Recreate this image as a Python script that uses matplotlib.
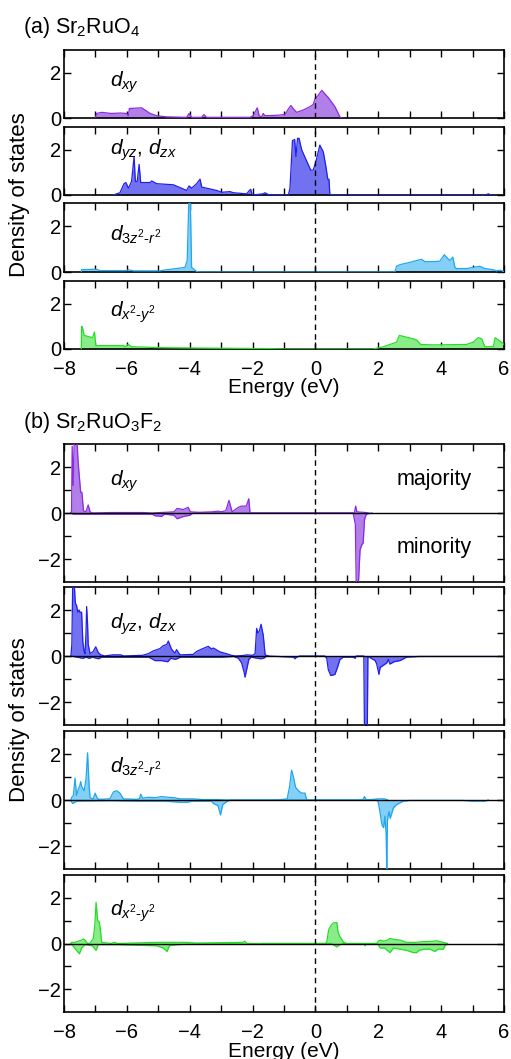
import numpy as np
import matplotlib
matplotlib.use("Agg")
import matplotlib.pyplot as plt

plt.rcParams['font.family'] = ['Liberation Sans', 'DejaVu Sans']
plt.rcParams['mathtext.fontset'] = 'custom'
plt.rcParams['mathtext.rm'] = 'Liberation Sans'
plt.rcParams['mathtext.it'] = 'Liberation Sans:italic'
plt.rcParams['font.size'] = 15

# ---------------- (a) Sr2RuO4 (non spin-polarized) ----------------
e_a_xy = [-7.0, -6.96, -6.8, -6.5, -6.2, -6.01, -5.95, -5.92, -5.53, -5.26, -5.05, -4.73, -4.10, -4.02, -3.94,
          -3.62, -3.55, -3.46, -2.08, -1.98, -1.85, -1.79, -1.71, -1.66, -1.61, -1.23, -0.97, -0.86, -0.78,
          -0.70, -0.60, -0.39, -0.17, -0.07, -0.01, 0.09, 0.20, 0.41, 0.62, 0.78, 0.83]
a_xy = [0.0, 0.2, 0.25, 0.2, 0.22, 0.2, 0.1, 0.42, 0.45, 0.2, 0.1, 0.05, 0.03, 0.2, 0.03,
        0.03, 0.15, 0.03, 0.03, 0.1, 0.45, 0.1, 0.05, 0.2, 0.1, 0.12, 0.15, 0.4, 0.55,
        0.4, 0.25, 0.35, 0.5, 0.6, 0.85, 1.0, 1.22, 0.9, 0.5, 0.05, 0.0]

e_a_yz = [-6.43, -6.22, -6.09, -6.03, -5.95, -5.85, -5.77, -5.73, -5.67, -5.61, -5.56, -5.26, -5.21, -5.05,
          -4.52, -4.26, -4.10, -4.02, -3.94, -3.78, -3.67, -3.62, -3.14, -2.98, -2.72, -2.61, -2.19, -2.10,
          -2.06, -2.01, -1.66, -1.61, -1.50, -0.86, -0.81, -0.73, -0.66, -0.62, -0.57, -0.52, -0.44, -0.28,
          -0.15, -0.07, 0.02, 0.14, 0.25, 0.34, 0.39, 0.43, 0.46, 5.4, 5.5, 5.6]
a_yz = [0.0, 0.1, 0.5, 0.55, 0.3, 0.6, 1.7, 0.6, 0.6, 1.35, 0.55, 0.55, 0.62, 0.5,
        0.45, 0.3, 0.2, 0.4, 0.3, 0.5, 0.7, 0.35, 0.2, 0.12, 0.15, 0.1, 0.05, 0.2,
        0.25, 0.0, 0.05, 0.1, 0.02, 0.0, 0.3, 2.4, 2.45, 1.7, 2.5, 2.5, 2.0, 1.5,
        1.1, 1.1, 1.5, 2.2, 1.9, 1.2, 0.7, 0.7, 0.0, 0.0, 0.05, 0.0]

e_a_z2 = [-7.45, -7.44, -7.01, -6.96, -6.85, -6.01, -5.95, -5.79, -4.95, -4.73, -4.42, -4.15, -4.08, -4.03,
          -3.98, -3.94, -3.78, -3.67, 2.53, 2.58, 2.69, 3.01, 3.22, 3.38, 3.48, 3.75, 3.96, 4.10, 4.20,
          4.28, 4.37, 4.44, 4.49, 4.81, 5.02, 5.23, 5.39, 5.66, 5.76, 5.87, 6.0]
a_z2 = [0.0, 0.1, 0.12, 0.12, 0.06, 0.06, 0.1, 0.05, 0.05, 0.1, 0.15, 0.2, 0.5, 3.0,
        3.0, 0.2, 0.02, 0.0, 0.0, 0.25, 0.32, 0.42, 0.5, 0.55, 0.45, 0.45, 0.47, 0.75, 0.6,
        0.5, 0.65, 0.2, 0.15, 0.15, 0.2, 0.25, 0.15, 0.1, 0.05, 0.08, 0.02]

e_a_x2 = [-7.45, -7.44, -7.41, -7.36, -7.09, -7.03, -6.99, -6.11, -6.06, -5.95, -5.85, -4.95, -3.67, -1.55,
          -1.02, 1.84, 2.16, 2.58, 2.67, 3.11, 3.22, 3.35, 3.75, 4.81, 5.02, 5.18, 5.29, 5.39, 5.66,
          5.72, 5.87, 6.0]
a_x2 = [0.0, 1.0, 0.95, 0.6, 0.5, 0.75, 0.15, 0.15, 0.1, 0.2, 0.1, 0.06, 0.04, 0.02,
        0.0, 0.0, 0.1, 0.3, 0.6, 0.45, 0.4, 0.2, 0.18, 0.2, 0.3, 0.5, 0.45, 0.1, 0.1,
        0.5, 0.35, 0.2]

# ---------------- (b) Sr2RuO3F2 (majority up / minority down) ----------------
e_b_xy_up = [-7.78, -7.76, -7.74, -7.71, -7.67, -7.6, -7.55, -7.5, -7.47, -7.43, -7.38, -7.3, -7.23, -7.17,
             -7.1, -6.5, -6.0, -5.5, -5.2, -4.5, -4.4, -4.2, -4.05, -3.98, -3.7, -3.3, -3.1, -3.0, -2.85,
             -2.75, -2.65, -2.45, -2.35, -2.2, -2.12, -2.08, 1.24, 1.28, 1.32, 1.6, 1.7]
b_xy_up = [0.0, 0.1, 2.9, 1.2, 3.5, 3.5, 2.2, 1.4, 0.9, 0.9, 0.1, 0.05, 0.35, 0.05,
           0.0, 0.02, 0.02, 0.02, 0.0, 0.05, 0.2, 0.15, 0.25, 0.05, 0.03, 0.05, 0.08, 0.05, 0.1,
           0.55, 0.05, 0.25, 0.3, 0.3, 0.62, 0.0, 0.0, 0.3, 0.05, 0.02, 0.0]
e_b_xy_dn = [-7.8, -7.7, -5.2, -5.1, -4.9, -4.8, -4.5, -4.4, -4.2, -4.0, -3.9, 1.2, 1.27, 1.3, 1.36,
             1.42, 1.47, 1.52, 1.56, 1.62, 1.8]
b_xy_dn = [0.0, -0.05, -0.05, -0.12, -0.15, -0.05, -0.1, -0.25, -0.15, -0.1, 0.0, 0.0, -0.5, -3.3, -3.3,
           -1.6, -1.4, -1.3, -0.3, -0.05, 0.0]

e_b_yz_up = [-7.78, -7.75, -7.72, -7.68, -7.64, -7.6, -7.56, -7.52, -7.49, -7.44, -7.40, -7.36, -7.33, -7.3,
             -7.28, -7.25, -7.23, -7.17, -7.07, -6.99, -6.91, -6.83, -6.7, -6.45, -6.2, -6.1, -5.7, -5.5,
             -5.32, -5.16, -4.95, -4.84, -4.73, -4.68, -4.58, -4.47, -4.42, -4.31, -3.89, -3.78, -3.62,
             -3.41, -3.3, -3.25, -3.04, -2.83, -2.67, -2.55, -2.3, -2.19, -2.0, -1.92, -1.87, -1.83, -1.78,
             -1.73, -1.66, -1.6, -1.5]
b_yz_up = [0.0, 0.5, 3.5, 3.3, 2.3, 2.2, 1.9, 2.0, 1.9, 1.9, 0.6, 0.2, 0.1, 1.0,
           2.15, 1.4, 0.5, 0.1, 0.2, 0.4, 0.15, 0.05, 0.0, 0.05, 0.05, 0.0, 0.02, 0.03,
           0.1, 0.22, 0.32, 0.45, 0.5, 0.65, 0.3, 0.12, 0.28, 0.05, 0.07, 0.2, 0.3,
           0.42, 0.3, 0.35, 0.18, 0.1, 0.03, 0.0, 0.02, 0.05, 0.03, 0.1, 1.2, 1.0, 1.1,
           1.38, 0.9, 0.05, 0.0]
e_b_yz_dn = [-7.78, -7.4, -7.3, -7.2, -7.1, -6.9, -6.8, -5.3, -5.1, -4.9, -4.7, -4.6, -4.45, -4.3, -3.9,
             -3.5, -3.0, -2.6, -2.45, -2.35, -2.27, -2.24, -2.19, -2.12, -2.05, -1.75, -1.65, -1.55, -0.7,
             -0.65, -0.6, -0.5, 0.3, 0.36, 0.41, 0.49, 0.62, 0.7, 0.78, 0.89, 1.2, 1.26, 1.3, 1.54, 1.56,
             1.65, 1.67, 1.9, 1.95, 2.02, 2.06, 2.11, 2.27, 2.32, 2.37, 2.5, 2.69, 2.9, 3.3, 4.5, 5.5, 6.0]
b_yz_dn = [0.0, -0.1, -0.05, -0.1, -0.05, -0.12, -0.05, -0.05, -0.2, -0.2, -0.25, -0.1, -0.15, -0.05, -0.05,
           -0.05, -0.05, -0.02, -0.1, -0.3, -0.7, -0.92, -0.6, -0.15, -0.05, -0.12, -0.1, 0.0, -0.05,
           -0.12, -0.05, 0.0, 0.0, -0.1, -0.6, -0.85, -0.8, -0.5, -0.15, -0.05, -0.05, -0.1, 0.0, 0.0, -3.3,
           -3.3, -0.02, -0.2, -0.35, -0.8, -0.5, -0.45, -0.3, -0.15, -0.35, -0.25, -0.2, -0.05, -0.02, -0.02, -0.02, -0.02]

e_b_z2_up = [-7.78, -7.76, -7.7, -7.65, -7.6, -7.54, -7.5, -7.47, -7.44, -7.4, -7.36, -7.3, -7.25, -7.2,
             -7.17, -7.07, -7.01, -6.95, -6.9, -6.54, -6.43, -6.32, -6.22, -6.11, -5.7, -5.6, -5.56, -5.5,
             -5.3, -5.1, -4.9, -4.7, -4.5, -4.3, -4.1, -3.9, -3.6, -3.2, -2.8, -1.2, -0.9, -0.82, -0.76,
             -0.7, -0.63, -0.54, -0.44, -0.33, -0.28, 1.5, 1.56, 1.62, 2.0, 2.2, 2.3]
b_z2_up = [0.0, 0.1, 0.2, 0.95, 0.2, 0.5, 0.6, 0.8, 0.6, 0.5, 0.4, 0.9, 2.05, 0.6,
           0.1, 0.05, 0.3, 0.1, 0.03, 0.05, 0.35, 0.4, 0.3, 0.05, 0.03, 0.05, 0.25, 0.08,
           0.12, 0.1, 0.15, 0.12, 0.1, 0.05, 0.05, 0.05, 0.02, 0.02, 0.0, 0.0, 0.05, 0.6, 1.3,
           1.0, 0.55, 0.4, 0.3, 0.3, 0.0, 0.0, 0.15, 0.0, 0.05, 0.05, 0.0]
e_b_z2_dn = [-7.78, -7.72, -7.6, -6.5, -5.7, -4.8, -4.3, -4.1, -3.9, -3.5, -3.3, -3.25, -3.1, -3.05, -3.02,
             -2.95, -2.8, -2.7, 1.95, 2.0, 2.05, 2.12, 2.17, 2.21, 2.25, 2.27, 2.29, 2.34, 2.38, 2.48,
             2.58, 2.8, 3.0, 4.7, 5.0, 5.4, 5.5]
b_z2_dn = [-0.05, -0.15, -0.05, -0.03, -0.05, -0.05, -0.1, -0.1, -0.05, -0.05, -0.05, -0.15, -0.25, -0.5, -0.65,
           -0.2, -0.05, 0.0, 0.0, -0.1, -0.5, -1.1, -1.2, -0.7, -1.5, -3.2, -0.9, -0.5, -0.8, -0.35,
           -0.2, -0.05, -0.02, -0.02, -0.05, -0.05, 0.0]

e_b_x2_up = [-7.78, -7.76, -7.65, -7.54, -7.44, -7.38, -7.33, -7.25, -7.17, -7.07, -7.02, -6.98, -6.93, -6.88,
             -6.85, -6.8, -6.5, -6.4, -6.3, -5.05, -4.63, -4.3, -4.1, -3.8, -2.3, -2.24, -2.18, 0.3, 0.36,
             0.42, 0.5, 0.57, 0.68, 0.72, 0.78, 0.9, 1.0, 1.95, 2.0, 2.06, 2.16, 2.3, 2.37, 2.5, 2.69,
             2.9, 3.2, 3.4, 3.75, 3.85, 4.07, 4.2]
b_x2_up = [0.0, 0.05, 0.05, 0.1, 0.15, 0.2, 0.15, 0.0, 0.02, 0.2, 0.8, 1.8, 1.0, 0.95,
           0.7, 0.05, 0.0, 0.05, 0.0, 0.05, 0.05, 0.05, 0.05, 0.02, 0.05, 0.1, 0.0, 0.0, 0.05,
           0.6, 0.8, 0.9, 0.92, 0.5, 0.3, 0.05, 0.0, 0.0, 0.1, 0.15, 0.1, 0.15, 0.22, 0.18, 0.15,
           0.05, 0.05, 0.08, 0.1, 0.12, 0.05, 0.0]
e_b_x2_dn = [-7.78, -7.72, -7.6, -7.51, -7.44, -7.33, -7.1, -6.98, -6.91, -6.5, -6.3, -5.05, -4.84, -4.72,
             -4.65, -4.4, -3.7, -1.8, -1.7, 0.5, 0.56, 0.68, 0.78, 0.9, 1.55, 1.58, 1.62, 1.95, 2.0, 2.06,
             2.2, 2.37, 2.48, 2.69, 2.9, 3.12, 3.22, 3.3, 3.45, 3.65, 3.8, 3.9, 4.07, 4.12, 4.2]
b_x2_dn = [0.0, -0.1, -0.3, -0.45, -0.2, -0.05, -0.1, -0.3, -0.05, -0.05, -0.05, -0.1, -0.2, -0.35,
           -0.1, -0.05, -0.02, -0.03, 0.0, 0.0, -0.05, -0.15, -0.05, 0.0, 0.0, -0.1, 0.0, 0.0, -0.05, -0.2,
           -0.2, -0.4, -0.2, -0.25, -0.3, -0.4, -0.4, -0.3, -0.25, -0.25, -0.35, -0.25, -0.25, -0.1, 0.0]

labels = [r'$d_{xy}$', r'$d_{yz}$, $d_{zx}$', r'$d_{3z^2\text{-}r^2}$', r'$d_{x^2\text{-}y^2}$']
lines = ['#8a2be2', '#1f1fef', '#1ea7f0', '#26dd26']
fills = ['#b27ee8', '#7272f0', '#84cff6', '#88ec88']

W, H = 511, 1059
fig = plt.figure(figsize=(W / 100, H / 100), dpi=100)


def box(top, bot):
    return [64 / W, 1 - bot / H, 440 / W, (bot - top) / H]


def style(ax, spin):
    ax.set_xlim(-8, 6)
    ax.set_xticks(np.arange(-8, 7, 2))
    ax.set_xticks(np.arange(-8, 7, 1), minor=True)
    if spin:
        ax.set_ylim(-3, 3)
        ax.set_yticks([-2, 0, 2])
        ax.set_yticks([-2, -1, 0, 1, 2], minor=True)
        ax.axhline(0, color='black', lw=1.0, zorder=4)
    else:
        ax.set_ylim(0, 3)
        ax.set_yticks([0, 2])
    ax.tick_params(which='both', direction='in', top=True, right=True, labelsize=14.5, width=1.0)
    ax.tick_params(axis='y', pad=2)
    ax.tick_params(axis='x', pad=8)
    ax.tick_params(which='major', length=5)
    ax.tick_params(which='minor', length=5)
    for s in ax.spines.values():
        s.set_linewidth(1.2)
    ax.axvline(0, color='black', lw=1.0, ls=(0, (4, 3)), zorder=5)


def draw(ax, e, v, i):
    ax.fill_between(e, 0, v, color=fills[i], lw=0, zorder=2)
    ax.plot(e, v, color=lines[i], lw=0.9, zorder=3)


# panel (a)
a_boxes = [(50, 118), (127, 195), (203, 272), (281, 349)]
a_data = [(e_a_xy, a_xy), (e_a_yz, a_yz), (e_a_z2, a_z2), (e_a_x2, a_x2)]
a_ly = [0.46, 0.6, 0.46, 0.47]
for i in range(4):
    ax = fig.add_axes(box(*a_boxes[i]))
    draw(ax, *a_data[i], i)
    style(ax, False)
    ax.text(0.105, a_ly[i], labels[i], transform=ax.transAxes, fontsize=15, va='baseline')
    if i < 3:
        ax.set_xticklabels([])
    else:
        ax.set_xlabel('Energy (eV)', fontsize=15, labelpad=-1)

# panel (b)
b_boxes = [(444, 582), (587, 725), (731, 869), (875, 1012)]
b_up = [(e_b_xy_up, b_xy_up), (e_b_yz_up, b_yz_up), (e_b_z2_up, b_z2_up), (e_b_x2_up, b_x2_up)]
b_dn = [(e_b_xy_dn, b_xy_dn), (e_b_yz_dn, b_yz_dn), (e_b_z2_dn, b_z2_dn), (e_b_x2_dn, b_x2_dn)]
for i in range(4):
    ax = fig.add_axes(box(*b_boxes[i]))
    draw(ax, *b_up[i], i)
    draw(ax, *b_dn[i], i)
    style(ax, True)
    ax.text(0.105, 0.70, labels[i], transform=ax.transAxes, fontsize=15, va='baseline')
    if i == 0:
        ax.text(0.927, 0.70, 'majority', transform=ax.transAxes, fontsize=15.5, ha='right', va='baseline')
        ax.text(0.927, 0.21, 'minority', transform=ax.transAxes, fontsize=15.5, ha='right', va='baseline')
    if i < 3:
        ax.set_xticklabels([])
    else:
        ax.set_xlabel('Energy (eV)', fontsize=15, labelpad=0)

fig.text(23 / W, 1 - 33 / H, r'(a) Sr$_2$RuO$_4$', fontsize=15.5, va='baseline')
fig.text(23 / W, 1 - 428 / H, r'(b) Sr$_2$RuO$_3$F$_2$', fontsize=15.5, va='baseline')
fig.text(20 / W, 1 - 195 / H, 'Density of states', fontsize=16, rotation=90, ha='center', va='center')
fig.text(20 / W, 1 - 720 / H, 'Density of states', fontsize=16, rotation=90, ha='center', va='center')

fig.savefig('out.png', dpi=100)
